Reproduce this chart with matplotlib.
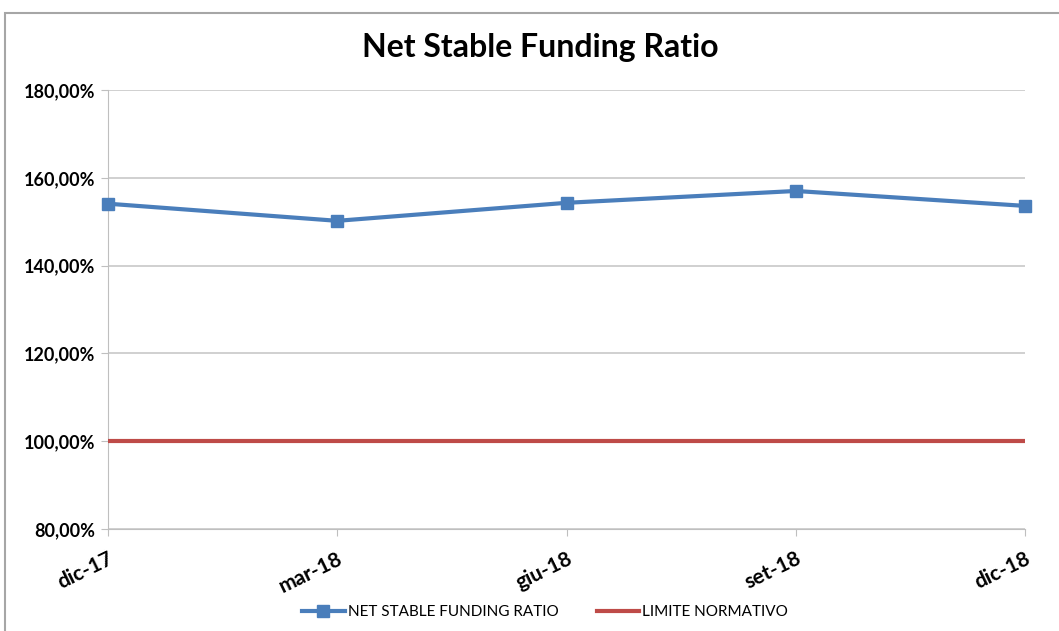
import matplotlib
matplotlib.use('Agg')
import matplotlib.pyplot as plt
from matplotlib.patches import Rectangle
from matplotlib.ticker import FuncFormatter

plt.rcParams['font.family'] = ['Lato', 'DejaVu Sans']

# data
periods = ['dic-17', 'mar-18', 'giu-18', 'set-18', 'dic-18']
nsfr = [154.1, 150.2, 154.3, 157.0, 153.6]
limite = [100.0, 100.0, 100.0, 100.0, 100.0]

W, H = 1059, 631
fig = plt.figure(figsize=(W / 100, H / 100), dpi=100)
ax = fig.add_axes([108 / W, 1 - 529 / H, (1025 - 108) / W, (529 - 90) / H])

# chart frame
fig.patches.append(Rectangle((5 / W, -0.01), 1.1, 1 - 13 / H + 0.01, transform=fig.transFigure,
                             fill=False, edgecolor='#a6a6a6', linewidth=1.5))

x = list(range(len(periods)))
ax.plot(x, nsfr, color='#4a7ebb', linewidth=3, marker='s', markersize=8,
        label='NET STABLE FUNDING RATIO', zorder=3, clip_on=False)
ax.plot(x, limite, color='#be4b48', linewidth=3, label='LIMITE NORMATIVO', zorder=3)

ax.set_xlim(0, len(periods) - 1)
ax.set_ylim(80, 180)
ax.set_yticks([80, 100, 120, 140, 160, 180])
ax.yaxis.set_major_formatter(FuncFormatter(lambda v, p: '{:.2f}%'.format(v).replace('.', ',')))
ax.set_xticks(x)
ax.set_xticklabels(periods, rotation=26, ha='right', rotation_mode='anchor',
                   fontsize=15, fontweight='bold')
for lbl in ax.get_yticklabels():
    lbl.set_fontsize(13)
    lbl.set_fontweight('bold')

ax.grid(axis='y', color='#c8c8c8', linewidth=1.2)
ax.grid(axis='x', visible=False)
for s in ['top', 'right']:
    ax.spines[s].set_visible(False)
ax.spines['left'].set_color('#bfbfbf')
ax.spines['bottom'].set_color('#bfbfbf')
ax.tick_params(axis='y', length=5, color='#bfbfbf', pad=4)
ax.tick_params(axis='x', length=5, color='#bfbfbf', pad=9)

fig.text(540 / W, 1 - 48 / H, 'Net Stable Funding Ratio', ha='center', va='center',
         fontsize=23, fontweight='bold')

fig.legend(loc='center', bbox_to_anchor=(545 / W, 1 - 612 / H), ncol=2, frameon=False,
           fontsize=11, handlelength=2.8, columnspacing=2.5, handletextpad=0.2)

fig.savefig('out.png', dpi=100)
